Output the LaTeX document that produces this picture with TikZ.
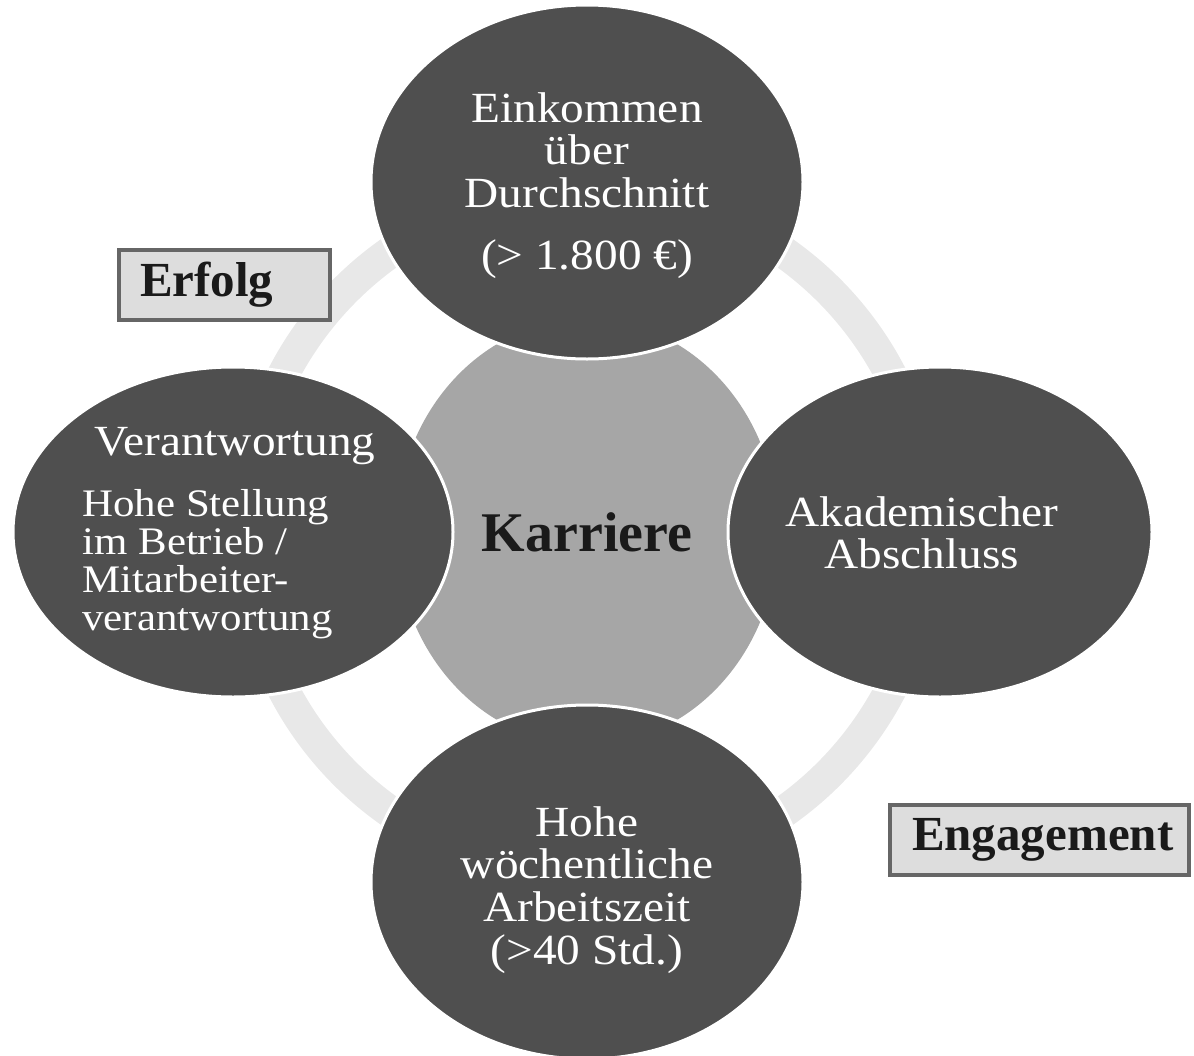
\documentclass[tikz,border=0pt]{standalone}
\usepackage{fontspec}
\setmainfont{Liberation Serif}
\newfontfamily\bubblefont[FakeStretch=1.1]{Liberation Serif}
\usetikzlibrary{shapes.geometric}
\definecolor{bubblegray}{HTML}{4F4F4F}
\definecolor{hubgray}{HTML}{A6A6A6}
\definecolor{ringgray}{HTML}{E8E8E8}
\definecolor{tagfill}{HTML}{DDDDDD}
\definecolor{tagline}{HTML}{666666}
\definecolor{inkblack}{HTML}{1A1A1A}

\begin{document}
\begin{tikzpicture}[x=0.5pt,y=-0.5pt,
    bubble/.style={ellipse, fill=bubblegray, draw=white, line width=1.5pt, inner sep=0pt},
    bubbletext/.style={inner sep=0pt, text=white, align=center, font=\bubblefont\fontsize{21.5}{21.3}\selectfont},
    bodytext/.style={inner sep=0pt, text=white, align=left, font=\bubblefont\fontsize{19.5}{19}\selectfont},
    tagbox/.style={draw=tagline, fill=tagfill, line width=2pt, outer sep=0pt, inner ysep=0pt, minimum height=35pt, anchor=north west, align=left, text=inkblack, font=\bfseries\fontsize{24.5}{28}\selectfont}]
    \useasboundingbox (0,0) rectangle (1194,1055);
    % ring and hub
    \coordinate (mid) at (587,532);
    \draw[ringgray, line width=16pt] (mid) circle[radius=342];
    \node[ellipse, fill=hubgray, inner sep=0pt, minimum width=191pt, minimum height=213pt, text=inkblack, font=\bfseries\fontsize{28}{30}\selectfont] (career) at (mid) {Karriere};
    % the four bubbles
    \node[bubble, minimum width=216pt, minimum height=177pt] (income) at (587,182) {};
    \node[bubble, minimum width=212pt, minimum height=165pt] (degree) at (940,532) {};
    \node[bubble, minimum width=216pt, minimum height=177pt] (hours) at (587,882) {};
    \node[bubble, minimum width=220pt, minimum height=165pt] (duty) at (233,532) {};
    \node[bubbletext, anchor=north] (incomeText) at (587,92) {Einkommen\\über\\Durchschnitt\\[9.5pt](> 1.800 €)};
    \node[bubbletext, anchor=north] (degreeText) at (922,496) {Akademischer\\Abschluss};
    \node[bubbletext, anchor=north] (hoursText) at (587,806) {Hohe\\wöchentliche\\Arbeitszeit\\(>40 Std.)};
    \node[bubbletext, anchor=base] (dutyTitle) at (235,455) {Verantwortung};
    \node[bodytext, anchor=north west] (dutyText) at (82,489) {Hohe Stellung\\im Betrieb /\\Mitarbeiter-\\verantwortung};
    % labels
    \node[tagbox, text width=84.5pt, inner xsep=10.5pt] (success) at (119,250) {Erfolg};
    \node[tagbox, text width=127.5pt, inner xsep=11pt] (effort) at (890,805) {Engagement};
\end{tikzpicture}
\end{document}
